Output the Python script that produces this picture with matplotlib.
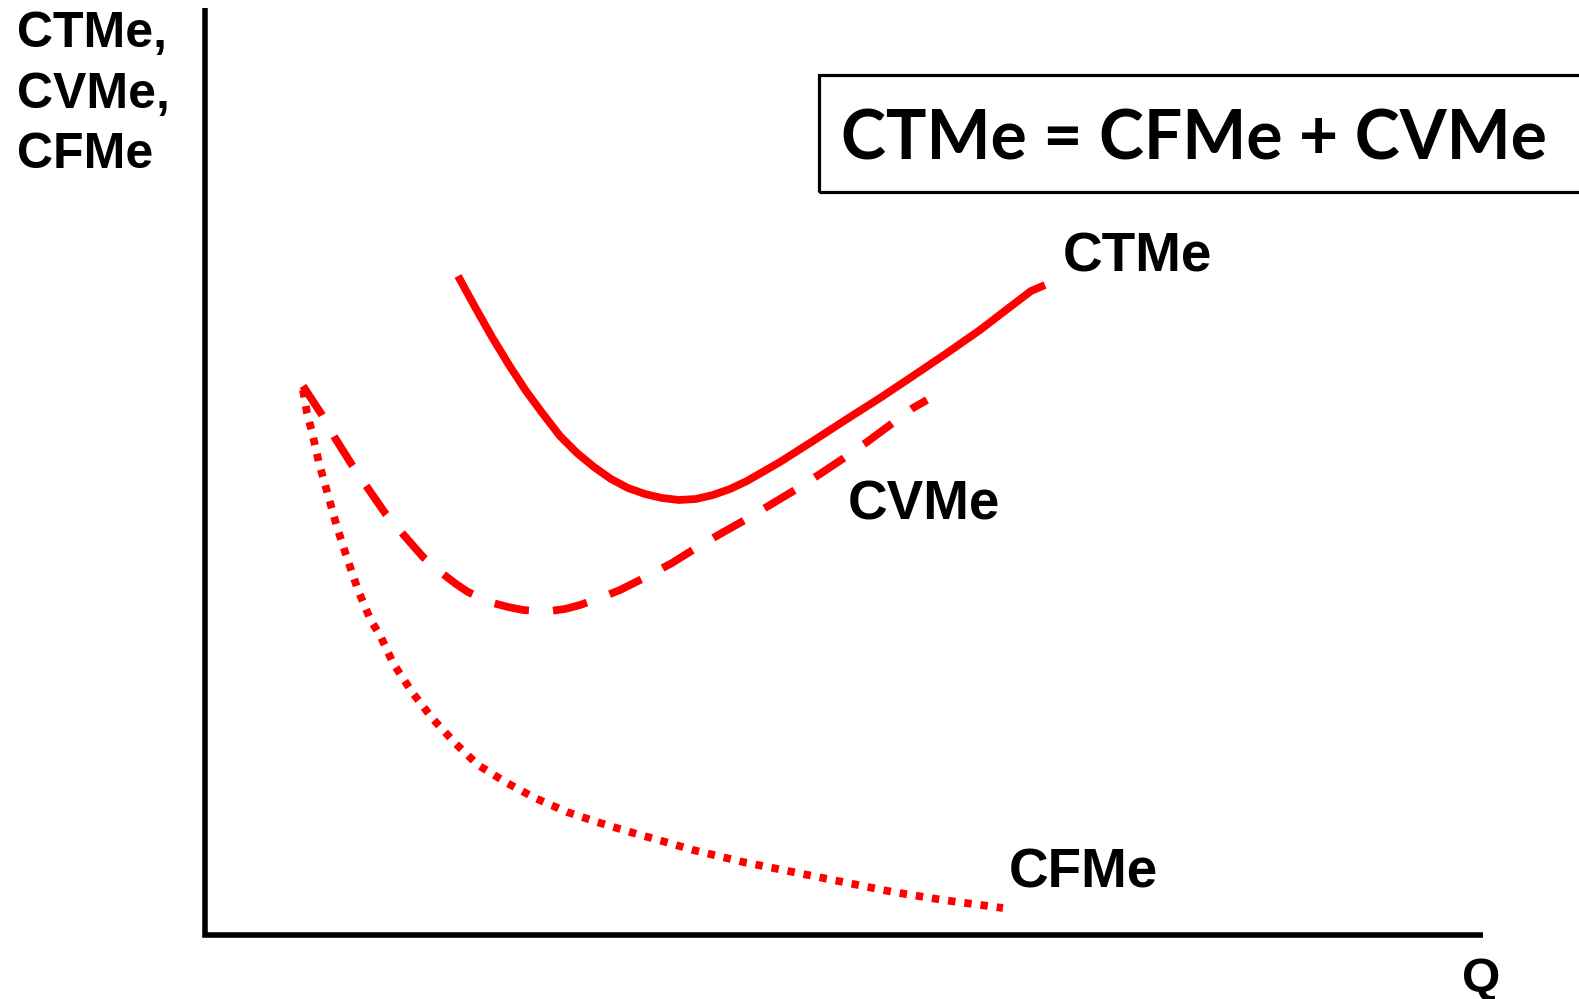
import matplotlib
matplotlib.use("Agg")
import matplotlib.pyplot as plt
from matplotlib.patches import Rectangle

# ---- data (Q, cost) ----
ctme_q = [25.3, 27.0, 28.7, 30.4, 32.1, 33.8, 35.5, 37.2, 38.9, 40.6, 42.3,
          44.0, 45.7, 47.4, 49.1, 50.8, 52.5, 54.2, 57.5, 60.8, 64.2, 67.5,
          70.8, 74.2, 77.5, 80.5, 82.6, 84.0]
ctme_c = [65.9, 62.8, 59.8, 57.0, 54.4, 52.1, 49.9, 48.2, 46.8, 45.6, 44.7,
          44.1, 43.7, 43.5, 43.6, 44.0, 44.6, 45.4, 47.3, 49.4, 51.6, 53.7,
          55.9, 58.2, 60.5, 62.8, 64.4, 65.0]

cvme_q = [9.8, 11.7, 13.0, 14.7, 16.2, 18.0, 19.7, 21.8, 23.8, 25.1, 26.3,
          27.6, 28.8, 30.3, 31.8, 33.2, 34.5, 36.0, 37.5, 39.5, 41.5, 44.1,
          46.7, 49.1, 51.5, 54.0, 56.5, 59.0, 61.5, 63.9, 66.2, 68.5, 70.8, 72.2]
cvme_c = [54.9, 52.0, 49.7, 47.0, 44.8, 42.2, 40.2, 37.8, 36.1, 35.1, 34.3,
          33.7, 33.2, 32.8, 32.5, 32.4, 32.4, 32.6, 33.0, 33.7, 34.5, 35.8,
          37.2, 38.7, 40.1, 41.5, 43.0, 44.5, 46.1, 47.7, 49.3, 51.0, 52.7, 53.5]

cfme_q = [9.8, 10.2, 10.7, 11.4, 12.3, 13.2, 14.2, 15.3, 16.6, 17.5, 18.8,
          20.7, 22.7, 25.0, 27.3, 30.2, 33.0, 36.2, 39.2, 42.5, 45.7, 48.8,
          53.8, 58.8, 63.8, 68.8, 73.8, 79.8]
cfme_c = [54.5, 52.2, 50.3, 47.2, 44.0, 40.8, 37.7, 34.5, 31.4, 30.0, 27.2,
          24.3, 21.7, 19.2, 17.0, 15.2, 13.7, 12.3, 11.3, 10.3, 9.4, 8.5,
          7.3, 6.3, 5.3, 4.3, 3.5, 2.7]

y_label_lines = ["CTMe,", "CVMe,", "CFMe"]
x_label = "Q"
curve_labels = ["CTMe", "CVMe", "CFMe"]
equation = "CTMe = CFMe + CVMe"

RED = "#FF0000"
LABEL_FONT = "Liberation Sans"
LW = 5.6

fig = plt.figure(figsize=(15.79, 9.99), dpi=100)
ax = fig.add_axes([0, 0, 1, 1])
ax.set_xlim(-20.5, 137.4)
ax.set_ylim(-6.4, 93.5)
ax.axis("off")

# axes lines
ax.plot([0, 0, 127.8], [92.7, 0, 0], color="black", lw=4.0,
        solid_joinstyle="miter", solid_capstyle="butt")

# curves
ax.plot(ctme_q, ctme_c, color=RED, lw=LW, solid_joinstyle="round",
        solid_capstyle="butt")
ax.plot(cvme_q, cvme_c, color=RED, lw=LW, linestyle=(0, (4.5, 3.1)),
        dash_capstyle="butt", dash_joinstyle="round")
ax.plot(cfme_q, cfme_c, color=RED, lw=LW, linestyle=(0, (0.95, 1.15)),
        dash_capstyle="butt", dash_joinstyle="round")

# y-axis label (three lines)
for txt, yb in zip(y_label_lines, [88.8, 82.7, 76.7]):
    ax.text(-18.8, yb, txt, fontsize=36, fontweight="bold",
            family=LABEL_FONT, ha="left", va="baseline")

# x-axis label
ax.text(127.6, -5.7, x_label, fontsize=35.5, fontweight="bold",
        family=LABEL_FONT, ha="center", va="baseline")

# curve labels
for txt, (xq, yc) in zip(curve_labels, [(85.8, 66.3), (64.3, 41.5), (80.4, 4.8)]):
    ax.text(xq, yc, txt, fontsize=39.5, fontweight="bold",
            family=LABEL_FONT, ha="left", va="baseline")

# equation box
ax.add_patch(Rectangle((61.4, 74.3), 80, 11.7, fill=False,
                       edgecolor="black", lw=2.3, clip_on=False))
eq = ax.text(63.6, 77.6, equation, fontsize=50, fontweight="bold",
             family="Lato", ha="left", va="baseline")
fig.canvas.draw()
w = eq.get_window_extent().width
eq.set_fontsize(50 * 707.0 / w)

fig.savefig("out.png", dpi=100)
